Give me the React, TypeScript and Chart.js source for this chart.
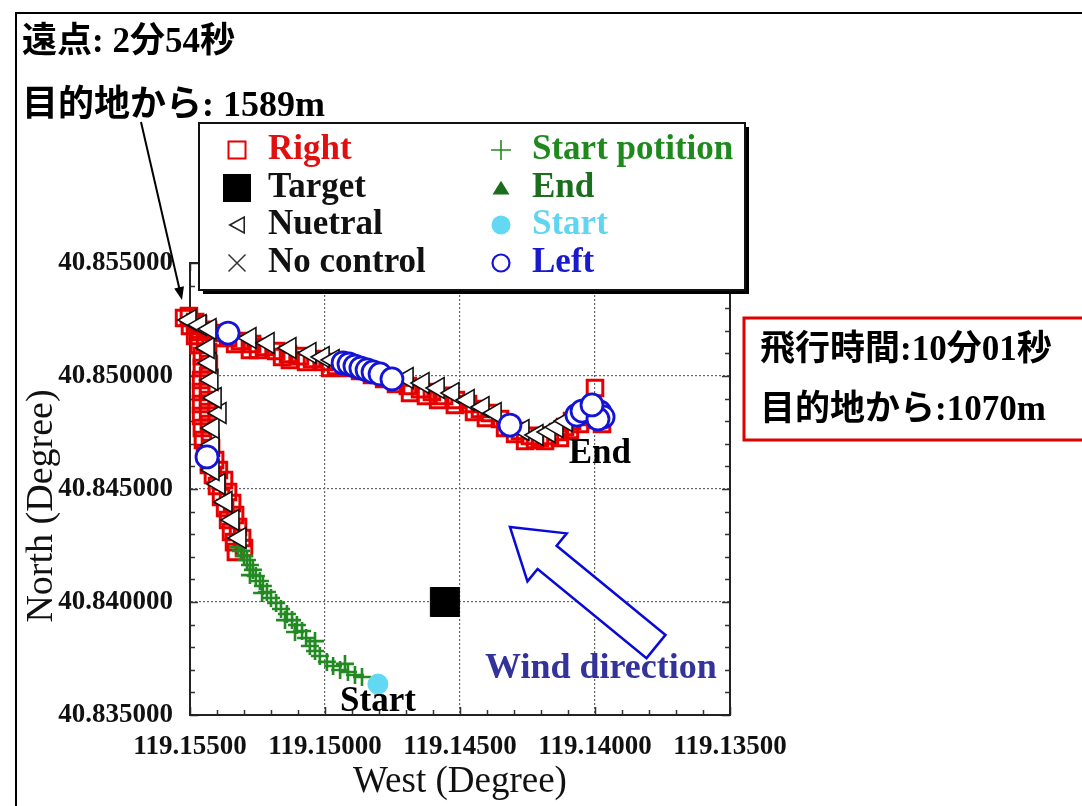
import React, { useEffect, useRef } from 'react';
import { Chart, registerables } from 'chart.js';

Chart.register(...registerables);

type P = [number, number];

const FONT = "'Liberation Serif', 'Noto Sans CJK JP', serif";

// ---- axes ----
const xTicks = [119.135, 119.136, 119.137, 119.138, 119.139, 119.14, 119.141, 119.142, 119.143, 119.144, 119.145, 119.146, 119.147, 119.148, 119.149, 119.15, 119.151, 119.152, 119.153, 119.154, 119.155];
const xMajorTicks = [119.135, 119.14, 119.145, 119.15, 119.155];
const yTicks = [40.835, 40.836, 40.837, 40.838, 40.839, 40.84, 40.841, 40.842, 40.843, 40.844, 40.845, 40.846, 40.847, 40.848, 40.849, 40.85, 40.851, 40.852, 40.853, 40.854, 40.855];
const yMajorTicks = [40.835, 40.84, 40.845, 40.85, 40.855];

// ---- series ----
const rightPts: P[] = [
  [119.15330, 40.84221], [119.15300, 40.84239], [119.15337, 40.84265], [119.15307, 40.84283], [119.15348, 40.84310],
  [119.15322, 40.84332], [119.15359, 40.84363], [119.15333, 40.84385], [119.15370, 40.84416], [119.15344, 40.84438],
  [119.15385, 40.84465], [119.15359, 40.84487], [119.15400, 40.84513], [119.15374, 40.84540], [119.15415, 40.84562],
  [119.15393, 40.84584], [119.15430, 40.84606], [119.15407, 40.84628], [119.15444, 40.84659], [119.15422, 40.84681],
  [119.15452, 40.84717], [119.15426, 40.84735], [119.15456, 40.84770], [119.15430, 40.84788], [119.15459, 40.84823],
  [119.15433, 40.84841], [119.15459, 40.84876], [119.15433, 40.84894], [119.15459, 40.84929], [119.15433, 40.84947],
  [119.15459, 40.84982], [119.15433, 40.85000], [119.15456, 40.85035], [119.15430, 40.85053], [119.15456, 40.85088],
  [119.15433, 40.85106], [119.15467, 40.85137], [119.15444, 40.85150], [119.15481, 40.85177], [119.15463, 40.85195],
  [119.15500, 40.85221], [119.15481, 40.85239], [119.15522, 40.85257], [119.15504, 40.85265],
  [119.15470, 40.85230], [119.15433, 40.85204], [119.15396, 40.85190], [119.15359, 40.85168], [119.15315, 40.85155],
  [119.15270, 40.85142], [119.15226, 40.85128], [119.15181, 40.85111], [119.15137, 40.85097], [119.15093, 40.85088],
  [119.15048, 40.85075], [119.15004, 40.85062], [119.14959, 40.85044], [119.14915, 40.85035], [119.14870, 40.85022],
  [119.14826, 40.85004], [119.14781, 40.84987], [119.14737, 40.84965], [119.14693, 40.84956], [119.14648, 40.84942],
  [119.14604, 40.84929], [119.14559, 40.84912], [119.14515, 40.84894], [119.14470, 40.84876], [119.14426, 40.84854],
  [119.14389, 40.84836], [119.14352, 40.84810], [119.14315, 40.84779], [119.14278, 40.84757], [119.14241, 40.84735],
  [119.14204, 40.84726], [119.14167, 40.84735], [119.14137, 40.84752], [119.14111, 40.84774], [119.14085, 40.84801],
  [119.14056, 40.84819], [119.14026, 40.84823], [119.13996, 40.84805], [119.13974, 40.84788], [119.14000, 40.84947],
  [119.15278, 40.85115], [119.15130, 40.85071], [119.14685, 40.84925], [119.14519, 40.84872], [119.14259, 40.84712],
  [119.14185, 40.84712],
  [119.15407, 40.85168], [119.15333, 40.85142], [119.15248, 40.85115], [119.15159, 40.85084], [119.15070, 40.85062],
  [119.14981, 40.85035], [119.14626, 40.84912], [119.14581, 40.84894], [119.14448, 40.84841], [119.14404, 40.84814],
  [119.14333, 40.84770], [119.14296, 40.84743], [119.14222, 40.84717], [119.14130, 40.84726], [119.14093, 40.84761],
  [119.14056, 40.84788],
];

const neutralPts: P[] = [
  [119.15315, 40.84283], [119.15341, 40.84363], [119.15367, 40.84443], [119.15393, 40.84522], [119.15415, 40.84584],
  [119.15415, 40.84695], [119.15415, 40.84770], [119.15389, 40.84836], [119.15407, 40.84903], [119.15419, 40.84982],
  [119.15426, 40.85058], [119.15433, 40.85124], [119.15500, 40.85248], [119.15463, 40.85226], [119.15426, 40.85208],
  [119.15278, 40.85168], [119.15211, 40.85146], [119.15130, 40.85124], [119.15056, 40.85102], [119.15007, 40.85084],
  [119.14970, 40.85071], [119.14696, 40.84991], [119.14637, 40.84969], [119.14581, 40.84947], [119.14526, 40.84925],
  [119.14470, 40.84894], [119.14415, 40.84863], [119.14370, 40.84836], [119.14267, 40.84761], [119.14215, 40.84739],
  [119.14170, 40.84752], [119.14141, 40.84774], [119.14107, 40.84801],
];

const leftPts: P[] = [
  [119.15359, 40.85190], [119.15437, 40.84642],
  [119.14933, 40.85058], [119.14911, 40.85053], [119.14889, 40.85044], [119.14867, 40.85035], [119.14844, 40.85027],
  [119.14822, 40.85018], [119.14796, 40.85009], [119.14752, 40.84987],
  [119.14315, 40.84783],
  [119.14067, 40.84827], [119.14048, 40.84845], [119.13982, 40.84841], [119.13970, 40.84819], [119.13989, 40.84810],
  [119.14011, 40.84872],
];

const startPositionPts: P[] = [
  [119.14863, 40.83668], [119.14889, 40.83677], [119.14915, 40.83690], [119.14944, 40.83699], [119.14970, 40.83717],
  [119.14993, 40.83735], [119.15019, 40.83761], [119.15037, 40.83783], [119.15056, 40.83805], [119.15070, 40.83841],
  [119.15085, 40.83872], [119.15104, 40.83898], [119.15122, 40.83920], [119.15141, 40.83947], [119.15163, 40.83969],
  [119.15181, 40.83996], [119.15200, 40.84018], [119.15215, 40.84044], [119.15230, 40.84071], [119.15241, 40.84093],
  [119.15256, 40.84115], [119.15267, 40.84142], [119.15278, 40.84164], [119.15289, 40.84186], [119.15300, 40.84204],
  [119.15311, 40.84226], [119.15322, 40.84243],
  [119.15037, 40.83827], [119.15111, 40.83867], [119.15148, 40.83920], [119.15233, 40.84040], [119.15278, 40.84119],
  [119.14926, 40.83726],
];

const endPts: P[] = [[119.13982, 40.84832]];
const startPts: P[] = [[119.14804, 40.83637]];
const targetPts: P[] = [[119.14556, 40.84000]];
const noControlPts: P[] = [];

// ---- annotations (data coordinates) ----
const windTip: P = [119.14315, 40.84332];
const windTail: P = [119.13774, 40.83803];
const windTextPos: P = [119.14407, 40.83704];

const titleLines = ['遠点: 2分54秒', '目的地から: 1589m'];
const infoLines = ['飛行時間:10分01秒', '目的地から:1070m'];

const legendLabels = ['Right', 'Target', 'Nuetral', 'No control', 'Start potition', 'End', 'Start', 'Left'];
const legendTextColors = ['#e01010', '#111111', '#111111', '#111111', '#1e8a1e', '#1b6e1b', '#5fd5ef', '#1a1acd'];
const legendMarkers = ['squareHollow', 'squareFilled', 'triLeft', 'x', 'plus', 'triUp', 'circleFilled', 'circleHollow'];
const legendMarkerColors = ['#e60000', '#000000', '#222222', '#333333', '#228b22', '#1a6e1a', '#62d8f2', '#1414d8'];
const legendMarkerSizes = [17, 28, 16, 17, 20, 17, 19, 17];

const toXY = (pts: P[]) => pts.map(([x, y]) => ({ x, y }));
const near = (list: number[], v: number) => list.some((m) => Math.abs(m - v) < 1e-7);

function drawMarker(ctx: CanvasRenderingContext2D, kind: string, x: number, y: number, s: number, color: string) {
  ctx.save();
  ctx.beginPath();
  const h = s / 2;
  switch (kind) {
    case 'squareHollow':
      ctx.strokeStyle = color; ctx.lineWidth = 2; ctx.strokeRect(x - h, y - h, s, s); break;
    case 'squareFilled':
      ctx.fillStyle = color; ctx.fillRect(x - h, y - h, s, s); break;
    case 'triLeft':
      ctx.moveTo(x - h * 0.9, y); ctx.lineTo(x + h * 0.9, y - h); ctx.lineTo(x + h * 0.9, y + h); ctx.closePath();
      ctx.fillStyle = '#fff'; ctx.fill(); ctx.strokeStyle = color; ctx.lineWidth = 1.6; ctx.stroke(); break;
    case 'x':
      ctx.moveTo(x - h, y - h); ctx.lineTo(x + h, y + h); ctx.moveTo(x + h, y - h); ctx.lineTo(x - h, y + h);
      ctx.strokeStyle = color; ctx.lineWidth = 1.5; ctx.stroke(); break;
    case 'plus':
      ctx.moveTo(x - h, y); ctx.lineTo(x + h, y); ctx.moveTo(x, y - h); ctx.lineTo(x, y + h);
      ctx.strokeStyle = color; ctx.lineWidth = 1.6; ctx.stroke(); break;
    case 'triUp':
      ctx.moveTo(x, y - h * 0.85); ctx.lineTo(x + h, y + h * 0.75); ctx.lineTo(x - h, y + h * 0.75); ctx.closePath();
      ctx.fillStyle = color; ctx.fill(); break;
    case 'circleFilled':
      ctx.arc(x, y, h, 0, Math.PI * 2); ctx.fillStyle = color; ctx.fill(); break;
    case 'circleHollow':
      ctx.arc(x, y, h, 0, Math.PI * 2); ctx.fillStyle = '#fff'; ctx.fill();
      ctx.strokeStyle = color; ctx.lineWidth = 2.2; ctx.stroke(); break;
  }
  ctx.restore();
}

const decorPlugin = {
  id: 'decor',
  beforeDraw(chart: any) {
    const { ctx, width, height } = chart;
    ctx.save();
    ctx.fillStyle = '#fff';
    ctx.fillRect(0, 0, width, height);
    ctx.strokeStyle = '#000';
    ctx.lineWidth = 2;
    ctx.beginPath();
    ctx.moveTo(16, height);
    ctx.lineTo(16, 13);
    ctx.lineTo(width, 13);
    ctx.stroke();
    ctx.restore();
  },
  beforeDatasetsDraw(chart: any) {
    const { ctx, chartArea: a, scales } = chart;
    const xs = scales.x;
    const ys = scales.y;
    ctx.save();
    ctx.strokeStyle = '#333';
    ctx.lineWidth = 1.5;
    ctx.beginPath();
    xs.ticks.forEach((t: any) => {
      const px = Math.round(xs.getPixelForValue(t.value)) + 0.5;
      const len = near(xMajorTicks, t.value) ? 8 : 5;
      ctx.moveTo(px, a.bottom); ctx.lineTo(px, a.bottom - len);
      ctx.moveTo(px, a.top); ctx.lineTo(px, a.top + len);
    });
    ys.ticks.forEach((t: any) => {
      const py = Math.round(ys.getPixelForValue(t.value)) + 0.5;
      const len = near(yMajorTicks, t.value) ? 8 : 5;
      ctx.moveTo(a.left, py); ctx.lineTo(a.left + len, py);
      ctx.moveTo(a.right, py); ctx.lineTo(a.right - len, py);
    });
    ctx.stroke();
    ctx.lineWidth = 2;
    ctx.strokeStyle = '#222';
    ctx.strokeRect(a.left, a.top, a.right - a.left, a.bottom - a.top);
    ctx.restore();
  },
  afterDatasetsDraw(chart: any) {
    const { ctx, scales } = chart;
    const xs = scales.x;
    const ys = scales.y;
    const px = (p: P) => [xs.getPixelForValue(p[0]), ys.getPixelForValue(p[1])];
    ctx.save();
    ctx.fillStyle = '#000';
    ctx.font = `bold 35px ${FONT}`;
    ctx.textAlign = 'center';
    ctx.textBaseline = 'middle';
    const [ex, ey] = px(endPts[0]);
    ctx.fillText('End', ex, ey + 40);
    const [sx, sy] = px(startPts[0]);
    ctx.fillText('Start', sx, sy + 18);
    // wind arrow
    const [tx, ty] = px(windTip);
    const [bx, by] = px(windTail);
    const len = Math.hypot(tx - bx, ty - by);
    const ux = (tx - bx) / len;
    const uy = (ty - by) / len;
    const nx = -uy;
    const ny = ux;
    const shaft = 15;
    const headW = 31;
    const headL = 48;
    const hx = tx - ux * headL;
    const hy = ty - uy * headL;
    ctx.beginPath();
    ctx.moveTo(bx + nx * shaft, by + ny * shaft);
    ctx.lineTo(hx + nx * shaft, hy + ny * shaft);
    ctx.lineTo(hx + nx * headW, hy + ny * headW);
    ctx.lineTo(tx, ty);
    ctx.lineTo(hx - nx * headW, hy - ny * headW);
    ctx.lineTo(hx - nx * shaft, hy - ny * shaft);
    ctx.lineTo(bx - nx * shaft, by - ny * shaft);
    ctx.closePath();
    ctx.fillStyle = '#fff';
    ctx.fill();
    ctx.strokeStyle = '#0a0ad8';
    ctx.lineWidth = 2.5;
    ctx.lineJoin = 'miter';
    ctx.stroke();
    const [wx, wy] = px(windTextPos);
    ctx.fillStyle = '#333399';
    ctx.font = `bold 36px ${FONT}`;
    ctx.textAlign = 'left';
    ctx.fillText('Wind direction', wx, wy);
    ctx.restore();
  },
  afterDraw(chart: any) {
    const { ctx } = chart;
    ctx.save();
    // y-axis title
    ctx.save();
    ctx.translate(42, 506);
    ctx.rotate(-Math.PI / 2);
    ctx.fillStyle = '#111';
    ctx.font = `38px ${FONT}`;
    ctx.textAlign = 'center';
    ctx.textBaseline = 'middle';
    ctx.fillText('North (Degree)', 0, 0);
    ctx.restore();

    // headline texts
    ctx.fillStyle = '#000';
    ctx.font = `bold 35px ${FONT}`;
    ctx.textAlign = 'left';
    ctx.textBaseline = 'middle';
    ctx.fillText(titleLines[0], 22, 43);
    ctx.font = `bold 36px ${FONT}`;
    ctx.fillText(titleLines[1], 22, 107);

    // pointer arrow
    ctx.strokeStyle = '#000';
    ctx.lineWidth = 2;
    const ax0 = 141, ay0 = 122, ax1 = 182, ay1 = 300;
    const al = Math.hypot(ax1 - ax0, ay1 - ay0);
    const aux = (ax1 - ax0) / al, auy = (ay1 - ay0) / al;
    ctx.beginPath();
    ctx.moveTo(ax0, ay0);
    ctx.lineTo(ax1 - aux * 8, ay1 - auy * 8);
    ctx.stroke();
    ctx.beginPath();
    ctx.moveTo(ax1, ay1);
    ctx.lineTo(ax1 - aux * 13 - auy * 5, ay1 - auy * 13 + aux * 5);
    ctx.lineTo(ax1 - aux * 13 + auy * 5, ay1 - auy * 13 - aux * 5);
    ctx.closePath();
    ctx.fillStyle = '#000';
    ctx.fill();

    // info box
    ctx.fillStyle = '#fff';
    ctx.fillRect(744, 318, 400, 122);
    ctx.strokeStyle = '#e00000';
    ctx.lineWidth = 3;
    ctx.strokeRect(744, 318, 400, 122);
    ctx.fillStyle = '#000';
    ctx.font = `bold 35px ${FONT}`;
    ctx.fillText(infoLines[0], 760, 351);
    ctx.fillText(infoLines[1], 760, 411);

    // legend box with shadow
    const lx = 199, ly = 123, lw = 546, lh = 167;
    ctx.fillStyle = '#000';
    ctx.fillRect(lx + 4, ly + 4, lw, lh);
    ctx.fillStyle = '#fff';
    ctx.fillRect(lx, ly, lw, lh);
    ctx.strokeStyle = '#111';
    ctx.lineWidth = 2;
    ctx.strokeRect(lx, ly, lw, lh);
    const rows = [150, 188, 225, 263];
    legendLabels.forEach((label, i) => {
      const col = i < 4 ? 0 : 1;
      const row = i % 4;
      const mx = col === 0 ? 237 : 501;
      const tx = col === 0 ? 268 : 532;
      const y = rows[row];
      drawMarker(ctx, legendMarkers[i], mx, y, legendMarkerSizes[i], legendMarkerColors[i]);
      ctx.fillStyle = legendTextColors[i];
      ctx.font = `bold 35px ${FONT}`;
      ctx.textAlign = 'left';
      ctx.textBaseline = 'middle';
      ctx.fillText(label, tx, y);
    });
    ctx.restore();
  },
};

export default function App() {
  const ref = useRef<HTMLCanvasElement>(null);
  useEffect(() => {
    if (!ref.current) return;
    const tickFont = { family: FONT, size: 27, weight: 'bold' as const };
    const chart = new Chart(ref.current, {
      type: 'scatter',
      data: {
        datasets: [
          {
            label: 'Right', data: toXY(rightPts), pointStyle: 'rect', pointRadius: 11,
            pointBorderColor: '#e60000', pointBackgroundColor: 'rgba(0,0,0,0)', pointBorderWidth: 3,
            order: 8, clip: false,
          },
          {
            label: 'Start potition', data: toXY(startPositionPts), pointStyle: 'cross', pointRadius: 9,
            pointBorderColor: '#238a23', pointBackgroundColor: '#238a23', pointBorderWidth: 2.6, order: 7, clip: false,
          },
          {
            label: 'Nuetral', data: toXY(neutralPts), pointStyle: 'triangle', pointRotation: 270, pointRadius: 12,
            pointBorderColor: '#111', pointBackgroundColor: '#fff', pointBorderWidth: 1.6, order: 6, clip: false,
          },
          {
            label: 'End', data: toXY(endPts), pointStyle: 'triangle', pointRadius: 9,
            pointBorderColor: '#1a6e1a', pointBackgroundColor: '#1a6e1a', pointBorderWidth: 1, order: 5, clip: false,
          },
          {
            label: 'Left', data: toXY(leftPts), pointStyle: 'circle', pointRadius: 11,
            pointBorderColor: '#1414d8', pointBackgroundColor: '#fff', pointBorderWidth: 2.8, order: 4, clip: false,
          },
          {
            label: 'Start', data: toXY(startPts), pointStyle: 'circle', pointRadius: 10,
            pointBorderColor: '#62d8f2', pointBackgroundColor: '#62d8f2', pointBorderWidth: 1, order: 3, clip: false,
          },
          {
            label: 'Target', data: toXY(targetPts), pointStyle: 'rect', pointRadius: 20.5,
            pointBorderColor: '#000', pointBackgroundColor: '#000', pointBorderWidth: 1, order: 2, clip: false,
          },
          {
            label: 'No control', data: toXY(noControlPts), pointStyle: 'crossRot', pointRadius: 8,
            pointBorderColor: '#333', pointBackgroundColor: '#333', pointBorderWidth: 1.5, order: 1,
          },
        ] as any,
      },
      options: {
        animation: false,
        responsive: true,
        maintainAspectRatio: false,
        layout: { padding: { top: 263, right: 352, left: 0, bottom: 0 } },
        plugins: { legend: { display: false }, tooltip: { enabled: false } },
        scales: {
          x: {
            type: 'linear',
            reverse: true,
            min: 119.135,
            max: 119.155,
            afterBuildTicks: (s: any) => { s.ticks = xTicks.map((v) => ({ value: v })); },
            afterFit: (s: any) => { s.height = 91; },
            ticks: {
              autoSkip: false,
              maxRotation: 0,
              minRotation: 0,
              padding: 16,
              color: '#111',
              font: tickFont,
              callback: (v: any) => (near(xMajorTicks, Number(v)) ? Number(v).toFixed(5) : ''),
            },
            grid: {
              drawTicks: false,
              lineWidth: 1.2,
              color: (c: any) => (c.tick && near(xMajorTicks, c.tick.value) ? '#666' : 'rgba(0,0,0,0)'),
            },
            border: { display: true, color: '#222', width: 2, dash: [2, 2] },
            title: {
              display: true,
              text: 'West (Degree)',
              color: '#111',
              font: { family: FONT, size: 37, weight: 'normal' },
              padding: { top: 0, bottom: 2 },
            },
          },
          y: {
            type: 'linear',
            min: 40.835,
            max: 40.855,
            afterBuildTicks: (s: any) => { s.ticks = yTicks.map((v) => ({ value: v })); },
            afterFit: (s: any) => { s.width = 190; },
            ticks: {
              autoSkip: false,
              padding: 17,
              color: '#111',
              font: tickFont,
              callback: (v: any) => (near(yMajorTicks, Number(v)) ? Number(v).toFixed(6) : ''),
            },
            grid: {
              drawTicks: false,
              lineWidth: 1.2,
              color: (c: any) => (c.tick && near(yMajorTicks, c.tick.value) ? '#666' : 'rgba(0,0,0,0)'),
            },
            border: { display: true, color: '#222', width: 2, dash: [2, 2] },
          },
        },
      },
      plugins: [decorPlugin],
    } as any);
    return () => chart.destroy();
  }, []);
  return (
    <div style={{ position: 'fixed', left: 0, top: 0, width: 1082, height: 806, background: '#fff' }}>
      <canvas ref={ref} style={{ display: 'block' }} />
    </div>
  );
}
